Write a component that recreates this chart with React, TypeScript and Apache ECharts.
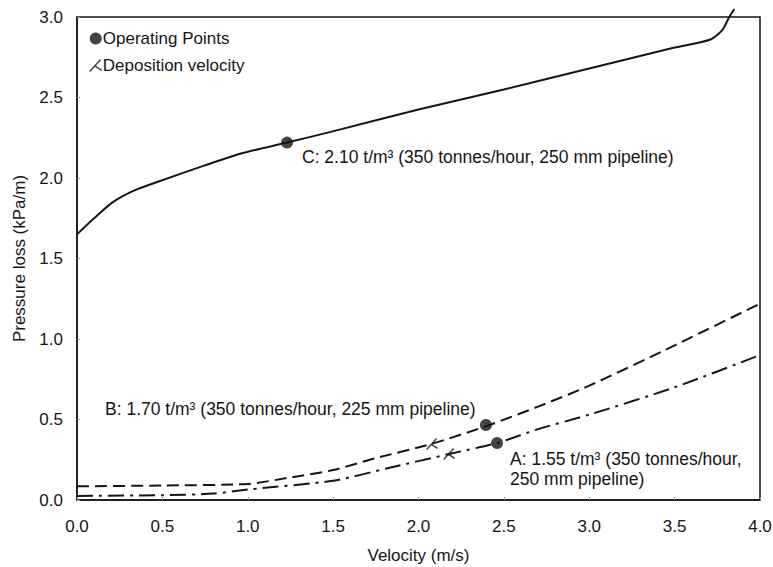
import React, { useEffect, useRef } from "react";
import * as echarts from "echarts";

// Curve C (solid): 2.10 t/m³, 250 mm pipeline
const cVel = [0, 0.1, 0.21, 0.33, 0.47, 0.74, 0.97, 1.23, 1.48, 2.0, 2.5, 3.0, 3.5, 3.71, 3.78, 3.82, 3.85];
const cLoss = [1.65, 1.75, 1.85, 1.92, 1.975, 2.075, 2.155, 2.22, 2.285, 2.425, 2.55, 2.68, 2.81, 2.86, 2.92, 3.0, 3.05];

// Curve B (dashed): 1.70 t/m³, 225 mm pipeline
const bVel = [0, 0.5, 1.0, 1.25, 1.5, 1.75, 2.08, 2.4, 2.7, 3.0, 3.5, 4.0];
const bLoss = [0.085, 0.09, 0.1, 0.14, 0.186, 0.26, 0.35, 0.46, 0.58, 0.71, 0.96, 1.22];

// Curve A (dash-dot): 1.55 t/m³, 250 mm pipeline
const aVel = [0, 0.5, 0.8, 1.0, 1.5, 1.83, 2.18, 2.46, 2.7, 3.0, 3.5, 4.0];
const aLoss = [0.025, 0.03, 0.04, 0.065, 0.12, 0.2, 0.286, 0.354, 0.44, 0.53, 0.7, 0.9];

// Operating points (C, B, A)
const opVel = [1.23, 2.395, 2.46];
const opLoss = [2.22, 0.466, 0.354];

// Deposition velocities (B, A)
const depVel = [2.08, 2.18];
const depLoss = [0.348, 0.286];

const xTicks = [0, 0.5, 1.0, 1.5, 2.0, 2.5, 3.0, 3.5, 4.0];
const yTicks = [0, 0.5, 1.0, 1.5, 2.0, 2.5, 3.0];

const labelC = "C: 2.10 t/m³ (350 tonnes/hour, 250 mm pipeline)";
const labelB = "B: 1.70 t/m³ (350 tonnes/hour, 225 mm pipeline)";
const labelA1 = "A: 1.55 t/m³ (350 tonnes/hour,";
const labelA2 = "250 mm pipeline)";

const zip = (xs: number[], ys: number[]) => xs.map((x, i) => [x, ys[i]]);

const FONT = "'Liberation Sans', Arial, sans-serif";
const INK = "#151515";
const FS = 17;
const FS_NOTE = 17.5;
const DEP_SYMBOL = "path://M9 0 L0 10 M4.5 5.5 L10 9";

export default function App() {
  const ref = useRef<HTMLDivElement>(null);
  useEffect(() => {
    if (!ref.current) return;
    const chart = echarts.init(ref.current, undefined, { renderer: "svg" });
    const textStyle = { fontFamily: FONT, fontSize: FS_NOTE, fill: INK, verticalAlign: "middle" };
    chart.setOption({
      animation: false,
      backgroundColor: "#ffffff",
      textStyle: { fontFamily: FONT, color: INK },
      grid: {
        left: 77,
        right: 13,
        top: 17,
        bottom: 67,
        outerBoundsMode: "none",
        containLabel: false,
        show: true,
        borderColor: INK,
        borderWidth: 1.5,
      },
      legend: {
        left: 84,
        top: 25,
        orient: "vertical",
        itemGap: 10,
        itemWidth: 12,
        itemHeight: 12,
        textStyle: { fontFamily: FONT, fontSize: FS, color: INK, padding: [0, 0, 0, -4] },
        data: [
          { name: "Operating Points", icon: "circle", itemStyle: { color: INK } },
          {
            name: "Deposition velocity",
            icon: DEP_SYMBOL,
            itemStyle: { color: "transparent", borderColor: INK, borderWidth: 1.5 },
          },
        ],
      },
      xAxis: {
        type: "value",
        min: 0,
        max: 4,
        interval: 0.5,
        name: "Velocity (m/s)",
        nameLocation: "middle",
        nameGap: 47,
        nameTextStyle: { fontFamily: FONT, fontSize: FS, color: INK },
        axisLine: { show: true, lineStyle: { color: INK, width: 1.5 } },
        axisTick: { show: true, inside: true, length: 3, lineStyle: { color: "#999" } },
        axisLabel: {
          fontFamily: FONT,
          fontSize: FS,
          color: INK,
          margin: 18,
          formatter: (v: number) => (xTicks.includes(v) ? v.toFixed(1) : ""),
        },
        splitLine: { show: false },
      },
      yAxis: {
        type: "value",
        min: 0,
        max: 3,
        interval: 0.5,
        name: "Pressure loss (kPa/m)",
        nameLocation: "middle",
        nameGap: 49,
        nameTextStyle: { fontFamily: FONT, fontSize: FS, color: INK },
        axisLine: { show: true, lineStyle: { color: INK, width: 1.5 } },
        axisTick: { show: true, inside: true, length: 3, lineStyle: { color: "#999" } },
        axisLabel: {
          fontFamily: FONT,
          fontSize: FS,
          color: INK,
          margin: 14,
          formatter: (v: number) => (yTicks.includes(v) ? v.toFixed(1) : ""),
        },
        splitLine: { show: false },
      },
      series: [
        {
          name: "C",
          type: "line",
          data: zip(cVel, cLoss),
          smooth: 0.25,
          showSymbol: false,
          clip: false,
          lineStyle: { color: INK, width: 2 },
          z: 2,
        },
        {
          name: "B",
          type: "line",
          data: zip(bVel, bLoss),
          smooth: 0.25,
          showSymbol: false,
          lineStyle: { color: INK, width: 2, type: [12, 6] },
          z: 2,
        },
        {
          name: "A",
          type: "line",
          data: zip(aVel, aLoss),
          smooth: 0.25,
          showSymbol: false,
          lineStyle: { color: INK, width: 2, type: [16, 6, 3, 6] },
          z: 2,
        },
        {
          name: "Operating Points",
          type: "scatter",
          data: zip(opVel, opLoss),
          symbol: "circle",
          symbolSize: 12,
          itemStyle: { color: INK },
          z: 5,
        },
        {
          name: "Deposition velocity",
          type: "scatter",
          data: zip(depVel, depLoss),
          symbol: DEP_SYMBOL,
          symbolSize: [11, 11],
          itemStyle: { color: "transparent", borderColor: INK, borderWidth: 1.5 },
          z: 5,
        },
      ],
      graphic: [
        { type: "text", x: 302, y: 157, style: { ...textStyle, text: labelC } },
        { type: "text", x: 105, y: 409, style: { ...textStyle, text: labelB } },
        { type: "text", x: 510, y: 459, style: { ...textStyle, text: labelA1 } },
        { type: "text", x: 510, y: 479, style: { ...textStyle, text: labelA2 } },
      ],
    });
    return () => chart.dispose();
  }, []);
  return (
    <div
      ref={ref}
      style={{ position: "absolute", left: 0, top: 0, width: 773, height: 567 }}
    />
  );
}
